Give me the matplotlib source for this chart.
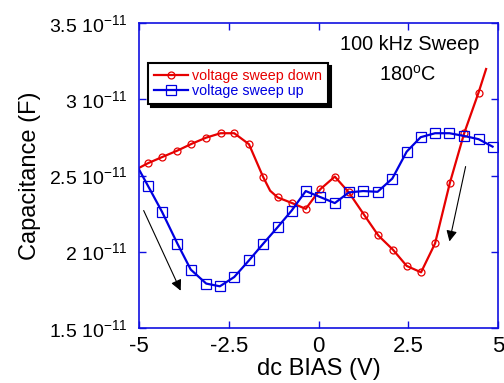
import matplotlib
matplotlib.use("Agg")
import matplotlib.pyplot as plt
from matplotlib.ticker import FixedLocator, FixedFormatter
from matplotlib.patches import FancyArrowPatch

plt.rcParams['font.family'] = ['Liberation Sans', 'DejaVu Sans']
plt.rcParams['mathtext.default'] = 'regular'

# Data (capacitance in units of 1e-11 F)
red_v = [-5.0, -4.75, -4.36, -3.93, -3.54, -3.13, -2.73, -2.35, -1.94, -1.55, -1.35, -1.14,
         -0.74, -0.36, 0.05, 0.45, 0.84, 1.27, 1.66, 2.07, 2.45, 2.85, 3.24, 3.65, 4.05, 4.45, 4.66]
red_c = [2.55, 2.581, 2.621, 2.664, 2.708, 2.749, 2.778, 2.778, 2.706, 2.493, 2.40, 2.356,
         2.319, 2.281, 2.411, 2.493, 2.389, 2.240, 2.106, 2.012, 1.906, 1.864, 2.054, 2.450,
         2.778, 3.045, 3.20]
red_marks = [1, 2, 3, 4, 5, 6, 7, 8, 9, 11, 12, 13, 14, 15, 16, 17, 18, 19, 20, 21, 22, 23, 24, 25]

blue_v = [-5.0, -4.75, -4.36, -3.93, -3.56, -3.13, -2.75, -2.35, -1.94, -1.55, -1.14, -0.75,
          -0.36, 0.05, 0.45, 0.84, 1.24, 1.64, 2.05, 2.45, 2.84, 3.24, 3.64, 4.05, 4.45, 4.84]
blue_c = [2.54, 2.432, 2.262, 2.052, 1.882, 1.790, 1.772, 1.833, 1.942, 2.050, 2.161, 2.270,
          2.398, 2.358, 2.319, 2.389, 2.398, 2.393, 2.480, 2.657, 2.752, 2.778, 2.778, 2.760,
          2.739, 2.690]

x_ticks = [-5, -2.5, 0, 2.5, 5]
x_ticklabels = ['-5', '-2.5', '0', '2.5', '5']
y_ticks = [1.5, 2.0, 2.5, 3.0, 3.5]
y_ticklabels = [r'1.5 10$^{-11}$', r'2 10$^{-11}$', r'2.5 10$^{-11}$', r'3 10$^{-11}$', r'3.5 10$^{-11}$']

RED = '#e60000'
BLUE = '#0000e0'
AXC = '#1010e0'

fig = plt.figure(figsize=(5.04, 3.83), dpi=100)
ax = fig.add_axes([0.2758, 0.1444, 0.7129, 0.7946])

ax.plot(red_v, red_c, color=RED, lw=1.6, marker='o', ms=5, mfc='none', mec=RED, mew=0.9,
        markevery=red_marks, label='voltage sweep down')
ax.plot(blue_v, blue_c, color=BLUE, lw=1.6, marker='s', ms=7, mfc='none', mec=BLUE, mew=0.9,
        markevery=list(range(1, len(blue_v))), label='voltage sweep up')

ax.set_xlim(-5, 5)
ax.set_ylim(1.5, 3.5)
ax.xaxis.set_major_locator(FixedLocator(x_ticks))
ax.xaxis.set_major_formatter(FixedFormatter(x_ticklabels))
ax.yaxis.set_major_locator(FixedLocator(y_ticks))
ax.yaxis.set_major_formatter(FixedFormatter(y_ticklabels))
ax.tick_params(direction='in', top=True, right=True, length=5, width=1, color=AXC)
ax.tick_params(axis='x', labelsize=16, pad=6)
ax.tick_params(axis='y', labelsize=14, pad=8)
for s in ax.spines.values():
    s.set_color(AXC)
    s.set_linewidth(1.2)

ax.set_xlabel('dc BIAS (V)', fontsize=17, labelpad=1)
ax.set_ylabel('Capacitance (F)', fontsize=17, labelpad=6)

leg = ax.legend(loc='upper left', bbox_to_anchor=(0.025, 0.87), fontsize=10.3,
                labelcolor='linecolor', frameon=True, fancybox=False,
                shadow={'color': 'black', 'alpha': 1.0}, handlelength=2.4,
                borderpad=0.4, labelspacing=0.1, handletextpad=0.3, borderaxespad=0)
leg.get_frame().set_edgecolor('black')
leg.get_frame().set_linewidth(1.5)

ax.text(2.54, 3.36, '100 kHz Sweep', fontsize=14.3, ha='center', va='center')
ax.text(2.48, 3.16, r'180$^{o}$C', fontsize=14.3, ha='center', va='center')

arrows = [((-4.87, 2.27), (-3.84, 1.743)), ((4.09, 2.559), (3.64, 2.067))]
for (x0, y0), (x1, y1) in arrows:
    ax.add_patch(FancyArrowPatch((x0, y0), (x1, y1), arrowstyle='-|>', mutation_scale=16,
                                 lw=0.8, color='black', shrinkA=0, shrinkB=0))

fig.savefig('out.png', dpi=100)
